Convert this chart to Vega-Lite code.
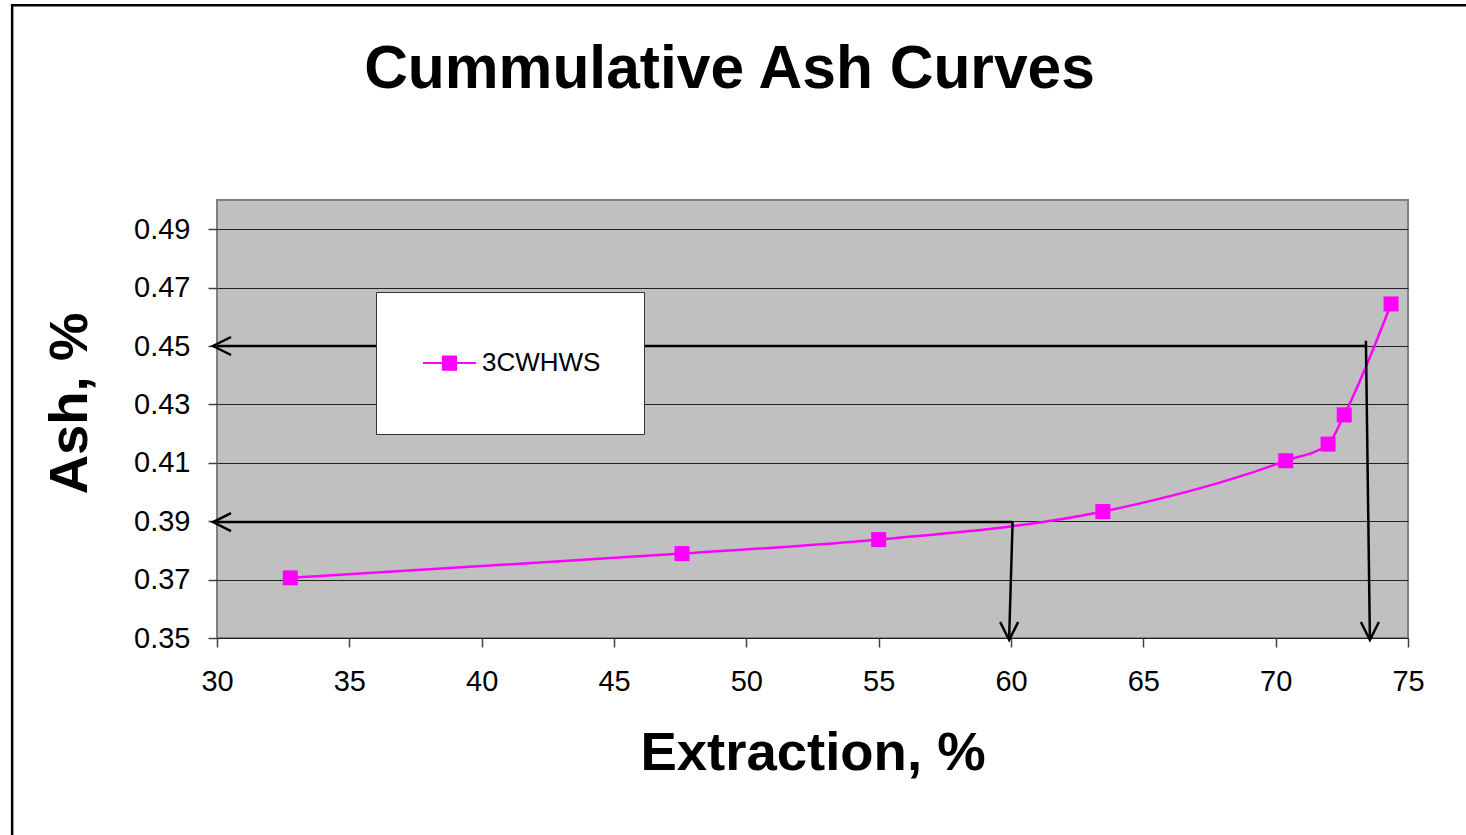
{
  "$schema": "https://vega.github.io/schema/vega-lite/v6.json",
  "autosize": "none",
  "width": 1191,
  "height": 438,
  "padding": {"left": 217, "top": 200, "right": 58, "bottom": 197},
  "background": "white",
  "title": {
    "text": "Cummulative Ash Curves",
    "fontSize": 60.5,
    "fontWeight": "bold",
    "font": "Liberation Sans",
    "color": "black",
    "anchor": "middle",
    "baseline": "alphabetic",
    "offset": 50,
    "dx": -83,
    "dy": 195
  },
  "datasets": {
    "curve": [
      {"extraction": 32.77, "ash": 0.3706, "series": "3CWHWS"},
      {"extraction": 47.57, "ash": 0.3789, "series": "3CWHWS"},
      {"extraction": 55.0, "ash": 0.3837, "series": "3CWHWS"},
      {"extraction": 63.47, "ash": 0.3933, "series": "3CWHWS"},
      {"extraction": 70.38, "ash": 0.4107, "series": "3CWHWS"},
      {"extraction": 71.98, "ash": 0.4164, "series": "3CWHWS"},
      {"extraction": 72.59, "ash": 0.4264, "series": "3CWHWS"},
      {"extraction": 74.36, "ash": 0.4644, "series": "3CWHWS"}
    ],
    "guides": [
      {"ex": 73.45, "ay": 0.45, "exEnd": 30.0, "ayEnd": 0.45},
      {"ex": 73.41, "ay": 0.4518, "exEnd": 73.56, "ayEnd": 0.35},
      {"ex": 60.06, "ay": 0.3897, "exEnd": 30.0, "ayEnd": 0.3897},
      {"ex": 60.06, "ay": 0.3897, "exEnd": 59.93, "ayEnd": 0.35}
    ],
    "heads": [
      {"ex": 29.85, "ay": 0.45, "dir": "left"},
      {"ex": 29.85, "ay": 0.3897, "dir": "left"},
      {"ex": 73.56, "ay": 0.3493, "dir": "down"},
      {"ex": 59.93, "ay": 0.3493, "dir": "down"}
    ]
  },
  "layer": [
    {
      "data": {"values": [{}]},
      "mark": {"type": "rect", "fill": null, "fillOpacity": 0, "stroke": "black", "strokeWidth": 2.5, "clip": false},
      "encoding": {
        "x": {"datum": 22.26, "type": "quantitative"},
        "x2": {"datum": 82},
        "y": {"datum": 0.5667, "type": "quantitative"},
        "y2": {"datum": 0.24}
      }
    },
    {
      "data": {"name": "curve"},
      "mark": {"type": "line", "interpolate": "monotone", "strokeWidth": 2.5, "clip": false},
      "encoding": {
        "x": {
          "field": "extraction", "type": "quantitative",
          "scale": {"domain": [30, 75], "nice": false, "zero": false},
          "axis": {
            "title": "Extraction, %",
            "values": [30, 35, 40, 45, 50, 55, 60, 65, 70, 75],
            "grid": false,
            "domain": false,
            "labelFlush": false,
            "tickSize": 9,
            "tickColor": "#404040",
            "tickWidth": 1.5,
            "labelFontSize": 29,
            "labelColor": "black",
            "labelPadding": 20,
            "labelFont": "Liberation Sans",
            "titleFont": "Liberation Sans",
            "titleFontSize": 54.5,
            "titleFontWeight": "bold",
            "titleColor": "black",
            "titleBaseline": "alphabetic",
            "titleY": 131
          }
        },
        "y": {
          "field": "ash", "type": "quantitative",
          "scale": {"domain": [0.35, 0.5], "nice": false, "zero": false},
          "axis": {
            "title": "Ash, %",
            "values": [0.35, 0.37, 0.39, 0.41, 0.43, 0.45, 0.47, 0.49],
            "format": ".2f",
            "grid": true,
            "gridColor": "#222222",
            "gridWidth": 1,
            "gridOpacity": 1,
            "domain": false,
            "labelFlush": false,
            "tickSize": 9,
            "tickColor": "#404040",
            "tickWidth": 1.5,
            "labelFontSize": 29,
            "labelColor": "black",
            "labelPadding": 18,
            "labelFont": "Liberation Sans",
            "titleFont": "Liberation Sans",
            "titleFontSize": 54.5,
            "titleFontWeight": "bold",
            "titleColor": "black",
            "titleAngle": 270,
            "titleAlign": "center",
            "titleBaseline": "alphabetic",
            "titleX": -131,
            "titleY": 203
          }
        },
        "color": {
          "field": "series", "type": "nominal",
          "scale": {"domain": ["3CWHWS"], "range": ["#FF00FF"]},
          "legend": {
            "title": null,
            "orient": "none",
            "legendX": 159,
            "legendY": 92,
            "fillColor": "white",
            "strokeColor": "#333333",
            "padding": 43,
            "clipHeight": 56,
            "labelFontSize": 26,
            "labelFont": "Liberation Sans",
            "labelColor": "black",
            "labelOffset": 5,
            "symbolOffset": 3,
            "symbolType": "M -1 0 L 1 0 M -0.25 -0.25 L 0.25 -0.25 L 0.25 0.25 L -0.25 0.25 Z",
            "symbolSize": 2809,
            "symbolStrokeWidth": 2,
            "symbolStrokeColor": "#FF00FF",
            "symbolFillColor": "#FF00FF",
            "symbolOpacity": 1
          }
        }
      }
    },
    {
      "data": {"name": "curve"},
      "mark": {"type": "point", "shape": "square", "filled": true, "size": 225, "opacity": 1},
      "encoding": {
        "x": {"field": "extraction", "type": "quantitative"},
        "y": {"field": "ash", "type": "quantitative"},
        "color": {"field": "series", "type": "nominal"}
      }
    },
    {
      "data": {"name": "guides"},
      "mark": {"type": "rule", "color": "black", "strokeWidth": 2.5, "clip": false},
      "encoding": {
        "x": {"field": "ex", "type": "quantitative"},
        "y": {"field": "ay", "type": "quantitative"},
        "x2": {"field": "exEnd"},
        "y2": {"field": "ayEnd"}
      }
    },
    {
      "data": {"name": "heads"},
      "mark": {"type": "point", "filled": false, "stroke": "black", "strokeWidth": 2.5, "size": 324, "opacity": 1, "clip": false},
      "encoding": {
        "x": {"field": "ex", "type": "quantitative"},
        "y": {"field": "ay", "type": "quantitative"},
        "shape": {
          "field": "dir", "type": "nominal",
          "scale": {"domain": ["left", "down"], "range": ["M 2 -1 L 0 0 L 2 1", "M -1 -2 L 0 0 L 1 -2"]},
          "legend": null
        }
      }
    }
  ],
  "config": {
    "font": "Liberation Sans",
    "view": {"fill": "#C0C0C0", "stroke": "#808080", "strokeWidth": 2}
  }
}
